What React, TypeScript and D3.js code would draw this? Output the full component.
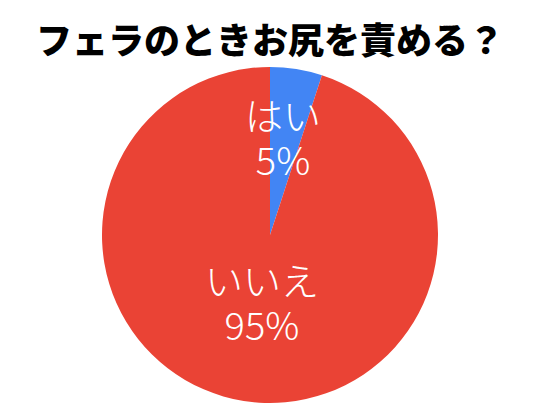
import React from "react";
import * as d3 from "d3";

const title = "フェラのときお尻を責める？";
const labels = ["はい", "いいえ"];
const values = [5, 95];
const colors = ["#4285F4", "#EA4335"];

const W = 540, H = 419;
const cx = 270, cy = 235, radius = 168;

export default function App() {
    const pie = d3.pie<number>().sort(null).value(d => d);
    const arcs = pie(values);
    const arc = d3.arc<d3.PieArcDatum<number>>().innerRadius(0).outerRadius(radius);

    // label positions picked by hand relative to the pie centre
    const labelPos = [
        { x: 283, y: 130 },
        { x: 262, y: 295 },
    ];

    return (
        <svg width={W} height={H} style={{ position: "absolute", left: 0, top: 0 }}>
            <rect width={W} height={H} fill="#fff" />
            <text x={W / 2} y={54} textAnchor="middle" fontSize={36} fontWeight={900}
                fontFamily="'Noto Sans CJK JP', sans-serif" fill="#000">{title}</text>
            <g transform={`translate(${cx},${cy})`}>
                {arcs.map((a, i) => (
                    <path key={i} d={arc(a) || ""} fill={colors[i]} />
                ))}
            </g>
            {arcs.map((a, i) => (
                <g key={i} fill="#fff" fontSize={38} textAnchor="middle"
                    fontFamily="'Noto Sans CJK JP', sans-serif" fontWeight={300}>
                    <text x={labelPos[i].x} y={labelPos[i].y}>{labels[i]}</text>
                    <text x={labelPos[i].x} y={labelPos[i].y + 45}>{values[i]}%</text>
                </g>
            ))}
        </svg>
    );
}
